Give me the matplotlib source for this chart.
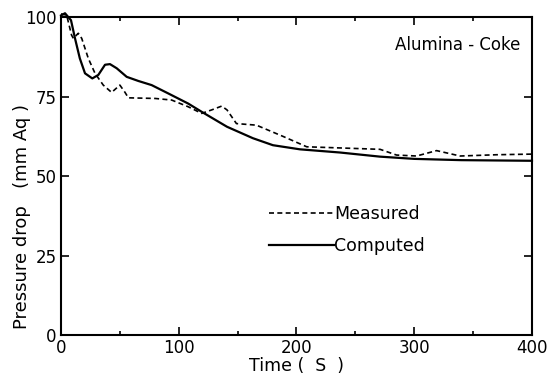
import numpy as np
import matplotlib.pyplot as plt
from matplotlib.lines import Line2D

# Computed curve
tComp = [0, 3.4, 8.5, 11.9, 16, 20.4, 26.6, 31.7, 37.4, 41.6, 47.3, 55.8, 65.7, 77, 91,
         108, 119.5, 141, 163, 180, 203, 237, 271, 300, 340, 400]
pComp = [100.5, 101.2, 99, 93.3, 87, 82.3, 80.7, 81.8, 85, 85.2, 83.9, 81.2, 79.9, 78.6, 76,
         72.8, 70.2, 65.5, 61.9, 59.7, 58.4, 57.4, 56.1, 55.4, 55.0, 54.8]

# Measured curve
tMeas = [0, 4.8, 9, 10.5, 14.7, 17.6, 23.2, 28.9, 35.9, 43, 50, 54.4, 57.2, 80, 94, 108,
         119.5, 128, 136.5, 141, 149, 166, 189, 208.7, 240, 271, 285, 302, 319, 339, 370, 400]
pMeas = [101, 100.6, 94.3, 93.3, 94.9, 93.3, 87, 82.3, 78.6, 76.3, 78.6, 76.3, 74.6, 74.4, 73.9, 71.8,
         69.7, 70.8, 72, 70.8, 66.5, 66, 62.4, 59.2, 58.8, 58.4, 56.6, 56.3, 58, 56.3, 56.7, 56.9]

fig = plt.figure(figsize=(5.47, 3.79), dpi=100)
ax = fig.add_axes([0.1115, 0.116, 0.861, 0.839])

ax.plot(tComp, pComp, color="black", lw=1.6, clip_on=False)
ax.plot(tMeas, pMeas, color="black", lw=1.2, ls=(0, (3, 2)), clip_on=False)

ax.set_xlim(0, 400)
ax.set_ylim(0, 100)
ax.set_xticks([0, 100, 200, 300, 400])
ax.set_xticks([50, 150, 250, 350], minor=True)
ax.set_yticks([0, 25, 50, 75, 100])
ax.tick_params(which="both", direction="in", top=True, right=True, labelsize=12, pad=3)
ax.tick_params(which="major", length=6, width=1.2)
ax.tick_params(which="minor", length=3, width=1.2)
for s in ax.spines.values():
    s.set_linewidth(1.5)

ax.set_xlabel("Time (  S  )", fontsize=12.5, labelpad=0)
ax.set_ylabel("Pressure drop   (mm Aq )", fontsize=13, labelpad=2)
ax.yaxis.set_label_coords(-0.064, 0.374)

ax.text(0.975, 0.94, "Alumina - Coke", transform=ax.transAxes, ha="right", va="top", fontsize=12)

handles = [Line2D([], [], color="black", lw=1.2, ls=(0, (3, 2))),
           Line2D([], [], color="black", lw=1.6)]
ax.legend(handles, ["Measured", "Computed"], loc="center", bbox_to_anchor=(0.607, 0.33),
          frameon=False, fontsize=12.5, handlelength=3.8, handletextpad=0.0, labelspacing=0.85)

fig.savefig("out.png", dpi=100)
